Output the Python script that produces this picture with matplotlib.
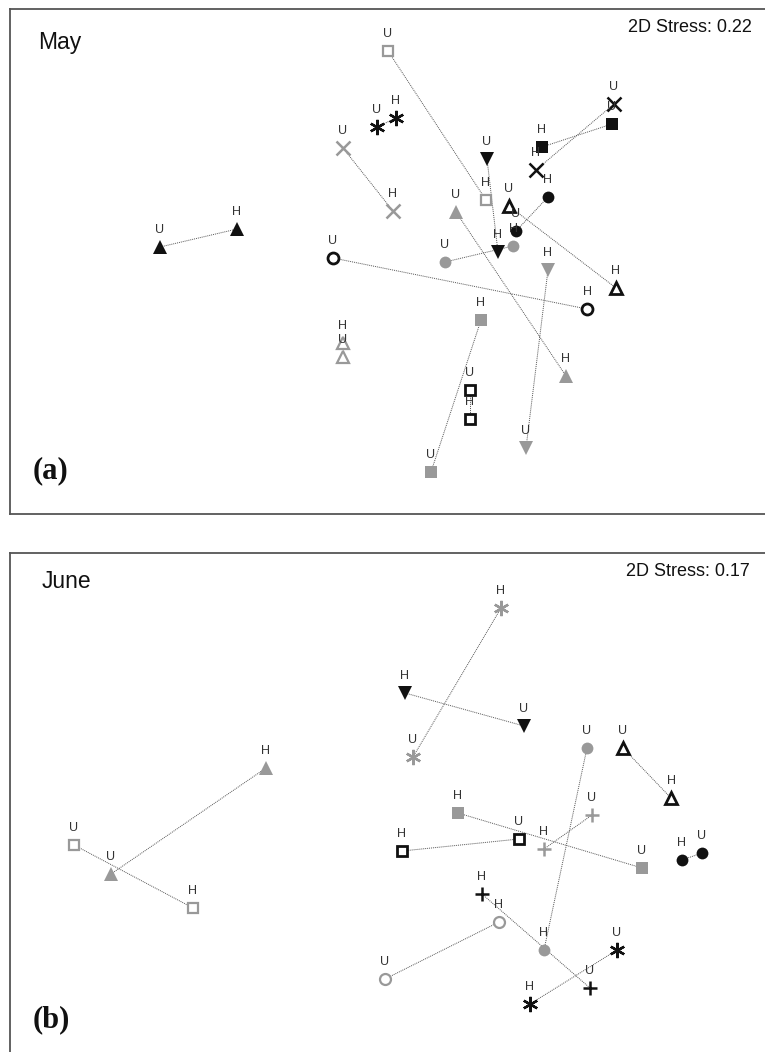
import matplotlib
matplotlib.use("Agg")
import matplotlib.pyplot as plt

# NMDS ordination of paired U / H samples, two sampling months
GRAY = "#999999"
BLACK = "#111111"

# May: marker, colour, filled, (U x, U y), (H x, H y)
may_marker = ["^", "s", "ast", "x", "v", "s", "x", "o", "^", "^", "o", "o", "v", "s", "s", "^"]
may_color = ["k", "g", "k", "g", "k", "k", "k", "k", "k", "g", "g", "k", "g", "g", "k", "g"]
may_filled = [1, 0, 1, 1, 1, 1, 1, 1, 0, 1, 1, 0, 1, 1, 0, 0]
may_u = [(-1.15, 0.075), (-0.01, 1.055), (-0.065, 0.675), (-0.235, 0.57), (0.485, 0.515),
         (1.11, 0.69), (1.12, 0.79), (0.63, 0.155), (0.595, 0.28), (0.33, 0.25),
         (0.275, 0.0), (-0.285, 0.02), (0.68, -0.93), (0.205, -1.05), (0.40, -0.64),
         (-0.235, -0.475)]
may_h = [(-0.765, 0.165), (0.48, 0.31), (0.03, 0.72), (0.015, 0.255), (0.54, 0.05),
         (0.76, 0.575), (0.73, 0.46), (0.79, 0.325), (1.13, -0.13), (0.88, -0.57),
         (0.615, 0.08), (0.985, -0.235), (0.79, -0.04), (0.455, -0.29), (0.40, -0.785),
         (-0.235, -0.405)]

# June
jun_marker = ["ast", "v", "o", "^", "s", "s", "+", "o", "+", "o", "ast", "s", "^"]
jun_color = ["g", "k", "g", "k", "g", "k", "g", "k", "k", "g", "k", "g", "g"]
jun_filled = [1, 1, 1, 0, 1, 0, 1, 1, 1, 0, 1, 0, 1]
jun_u = [(0.115, 0.215), (0.67, 0.37), (0.985, 0.26), (1.165, 0.26), (1.26, -0.34),
         (0.645, -0.195), (1.01, -0.075), (1.56, -0.265), (1.0, -0.94), (-0.025, -0.895),
         (1.135, -0.75), (-1.58, -0.225), (-1.395, -0.37)]
jun_h = [(0.555, 0.96), (0.075, 0.535), (0.77, -0.75), (1.405, 0.01), (0.34, -0.065),
         (0.06, -0.255), (0.77, -0.245), (1.46, -0.30), (0.46, -0.47), (0.545, -0.61),
         (0.70, -1.02), (-0.985, -0.54), (-0.62, 0.16)]


def marker_kw(m, c, filled):
    col = BLACK if c == "k" else GRAY
    if m == "ast":
        return dict(marker=(6, 2, 0), ms=11, mew=1.7, mec=col, mfc=col)
    if m in ("x", "+"):
        return dict(marker=m, ms=10, mew=1.8, mec=col, mfc=col)
    size = {"^": 10.5, "v": 10.5, "s": 8.5, "o": 8.5}[m]
    if filled:
        return dict(marker=m, ms=size, mew=0, mfc=col, mec=col)
    lw = 2.0 if c == "k" else 1.6
    shrink = 0.6 if m == "o" else 1.8
    return dict(marker=m, ms=size - shrink, mew=lw, mfc="white", mec=col)


def draw_panel(ax, markers, colors, filled, u, h):
    for m, c, f, pu, ph in zip(markers, colors, filled, u, h):
        ax.plot([pu[0], ph[0]], [pu[1], ph[1]], ls=(0, (1, 1)), lw=0.7,
                color="#555555", zorder=1)
    for m, c, f, pu, ph in zip(markers, colors, filled, u, h):
        kw = marker_kw(m, c, f)
        for p, lab in ((pu, "U"), (ph, "H")):
            ax.plot(p[0], p[1], ls="none", zorder=3, **kw)
            ax.annotate(lab, p, xytext=(0, 12), textcoords="offset points",
                        ha="center", va="center", fontsize=9, color="#333333",
                        family="Liberation Sans", zorder=4)
    ax.set_xticks([])
    ax.set_yticks([])
    for s in ax.spines.values():
        s.set_color("#555555")
        s.set_linewidth(1.3)


W, H = 765, 1052
fig = plt.figure(figsize=(W / 100, H / 100), dpi=100)

# panel (a): pixel box 10..770 x 9..514
ax1 = fig.add_axes([10 / W, 1 - 514 / H, 760 / W, 505 / H])
draw_panel(ax1, may_marker, may_color, may_filled, may_u, may_h)
ax1.set_xlim(-1.90, 1.90)
ax1.set_ylim(-1.26, 1.265)

# panel (b): pixel box 10..770 x 553..1056
ax2 = fig.add_axes([10 / W, 1 - 1056 / H, 760 / W, 503 / H])
draw_panel(ax2, jun_marker, jun_color, jun_filled, jun_u, jun_h)
ax2.set_xlim(-1.90, 1.90)
ax2.set_ylim(-1.28, 1.235)

sans = "Liberation Sans"
fig.text(38 / W, 1 - 42 / H, "May", fontsize=16.5, family=sans, va="center", color="#111111")
fig.text(752 / W, 1 - 27 / H, "2D Stress: 0.22", fontsize=13, family=sans,
         ha="right", va="center", color="#111111")
fig.text(33 / W, 1 - 471 / H, "(a)", fontsize=22, family="Liberation Serif",
         weight="bold", va="center", color="#111111")

fig.text(42 / W, 1 - 581 / H, "June", fontsize=16.5, family=sans, va="center", color="#111111")
fig.text(750 / W, 1 - 572 / H, "2D Stress: 0.17", fontsize=13, family=sans,
         ha="right", va="center", color="#111111")
fig.text(33 / W, 1 - 1020 / H, "(b)", fontsize=22, family="Liberation Serif",
         weight="bold", va="center", color="#111111")

fig.savefig("out.png", dpi=100)
